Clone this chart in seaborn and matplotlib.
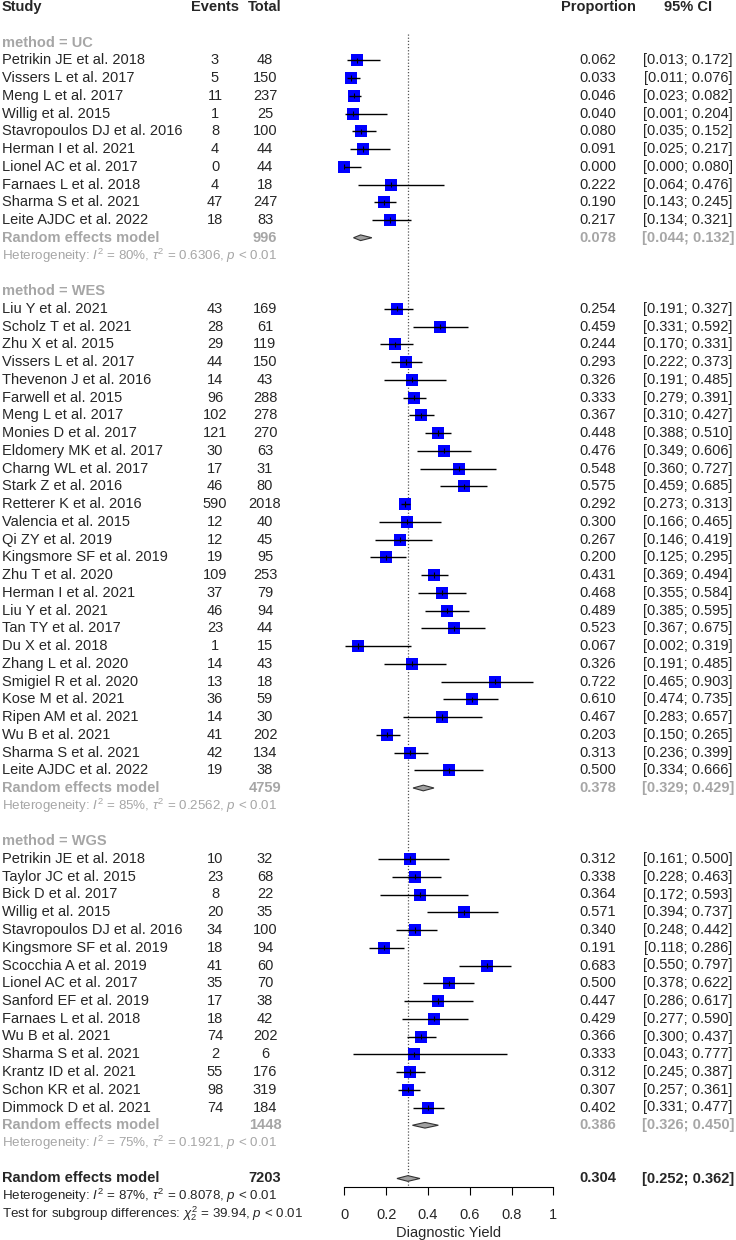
import matplotlib
matplotlib.use("Agg")
import matplotlib.pyplot as plt
import matplotlib.transforms as mtransforms
import numpy as np
import pandas as pd
import seaborn as sns

# ---- data ----
uc_study = ["Petrikin JE et al. 2018", "Vissers L et al. 2017", "Meng L et al. 2017",
            "Willig et al. 2015", "Stavropoulos DJ et al. 2016", "Herman I et al. 2021",
            "Lionel AC et al. 2017", "Farnaes L et al. 2018", "Sharma S et al. 2021",
            "Leite AJDC et al. 2022"]
uc_events = [3, 5, 11, 1, 8, 4, 0, 4, 47, 18]
uc_total = [48, 150, 237, 25, 100, 44, 44, 18, 247, 83]
uc_prop = [0.062, 0.033, 0.046, 0.040, 0.080, 0.091, 0.000, 0.222, 0.190, 0.217]
uc_lo = [0.013, 0.011, 0.023, 0.001, 0.035, 0.025, 0.000, 0.064, 0.143, 0.134]
uc_hi = [0.172, 0.076, 0.082, 0.204, 0.152, 0.217, 0.080, 0.476, 0.245, 0.321]

wes_study = ["Liu Y et al. 2021", "Scholz T et al. 2021", "Zhu X et al. 2015",
             "Vissers L et al. 2017", "Thevenon J et al. 2016", "Farwell et al. 2015",
             "Meng L et al. 2017", "Monies D et al. 2017", "Eldomery MK et al. 2017",
             "Charng WL et al. 2017", "Stark Z et al. 2016", "Retterer K et al. 2016",
             "Valencia et al. 2015", "Qi ZY et al. 2019", "Kingsmore SF et al. 2019",
             "Zhu T et al. 2020", "Herman I et al. 2021", "Liu Y et al. 2021",
             "Tan TY et al. 2017", "Du X et al. 2018", "Zhang L et al. 2020",
             "Smigiel R et al. 2020", "Kose M et al. 2021", "Ripen AM et al. 2021",
             "Wu B et al. 2021", "Sharma S et al. 2021", "Leite AJDC et al. 2022"]
wes_events = [43, 28, 29, 44, 14, 96, 102, 121, 30, 17, 46, 590, 12, 12, 19, 109, 37,
              46, 23, 1, 14, 13, 36, 14, 41, 42, 19]
wes_total = [169, 61, 119, 150, 43, 288, 278, 270, 63, 31, 80, 2018, 40, 45, 95, 253, 79,
             94, 44, 15, 43, 18, 59, 30, 202, 134, 38]
wes_prop = [0.254, 0.459, 0.244, 0.293, 0.326, 0.333, 0.367, 0.448, 0.476, 0.548, 0.575,
            0.292, 0.300, 0.267, 0.200, 0.431, 0.468, 0.489, 0.523, 0.067, 0.326, 0.722,
            0.610, 0.467, 0.203, 0.313, 0.500]
wes_lo = [0.191, 0.331, 0.170, 0.222, 0.191, 0.279, 0.310, 0.388, 0.349, 0.360, 0.459,
          0.273, 0.166, 0.146, 0.125, 0.369, 0.355, 0.385, 0.367, 0.002, 0.191, 0.465,
          0.474, 0.283, 0.150, 0.236, 0.334]
wes_hi = [0.327, 0.592, 0.331, 0.373, 0.485, 0.391, 0.427, 0.510, 0.606, 0.727, 0.685,
          0.313, 0.465, 0.419, 0.295, 0.494, 0.584, 0.595, 0.675, 0.319, 0.485, 0.903,
          0.735, 0.657, 0.265, 0.399, 0.666]

wgs_study = ["Petrikin JE et al. 2018", "Taylor JC et al. 2015", "Bick D et al. 2017",
             "Willig et al. 2015", "Stavropoulos DJ et al. 2016", "Kingsmore SF et al. 2019",
             "Scocchia A et al. 2019", "Lionel AC et al. 2017", "Sanford EF et al. 2019",
             "Farnaes L et al. 2018", "Wu B et al. 2021", "Sharma S et al. 2021",
             "Krantz ID et al. 2021", "Schon KR et al. 2021", "Dimmock D et al. 2021"]
wgs_events = [10, 23, 8, 20, 34, 18, 41, 35, 17, 18, 74, 2, 55, 98, 74]
wgs_total = [32, 68, 22, 35, 100, 94, 60, 70, 38, 42, 202, 6, 176, 319, 184]
wgs_prop = [0.312, 0.338, 0.364, 0.571, 0.340, 0.191, 0.683, 0.500, 0.447, 0.429, 0.366,
            0.333, 0.312, 0.307, 0.402]
wgs_lo = [0.161, 0.228, 0.172, 0.394, 0.248, 0.118, 0.550, 0.378, 0.286, 0.277, 0.300,
          0.043, 0.245, 0.257, 0.331]
wgs_hi = [0.500, 0.463, 0.593, 0.737, 0.442, 0.286, 0.797, 0.622, 0.617, 0.590, 0.437,
          0.777, 0.387, 0.361, 0.477]

group_names = ["UC", "WES", "WGS"]
group_total = [996, 4759, 1448]
group_est = [0.078, 0.378, 0.386]
group_lo = [0.044, 0.329, 0.326]
group_hi = [0.132, 0.429, 0.450]
group_i2 = [80, 85, 75]
group_tau2 = ["0.6306", "0.2562", "0.1921"]

overall_total = 7203
overall_est, overall_lo, overall_hi = 0.304, 0.252, 0.362
overall_i2, overall_tau2 = 87, "0.8078"
subgroup_chi2 = "39.94"

# ---- layout ----
W, H = 736, 1240
ROW0, ROWH = 7.0, 17.75
X0, X1 = 344.3, 553.3
AXB = 1187
FS = 10.5
FS_HET = 9.6
GREY = "#a6a6a6"
COL_STUDY, COL_EV, COL_TOT, COL_PROP, COL_CI = 2, 215, 265, 598, 688

sns.set_theme(style="white")
plt.rcParams["font.family"] = ["Liberation Sans", "DejaVu Sans"]
plt.rcParams["mathtext.fontset"] = "custom"
plt.rcParams["mathtext.rm"] = "Liberation Sans"
plt.rcParams["mathtext.it"] = "Liberation Sans:italic"
plt.rcParams["mathtext.bf"] = "Liberation Sans:bold"

fig = plt.figure(figsize=(W / 100, H / 100), dpi=100)
ax = fig.add_axes([X0 / W, 1 - AXB / H, (X1 - X0) / W, AXB / H])
ax.set_xlim(0, 1)
ax.set_ylim((AXB - ROW0) / ROWH, -ROW0 / ROWH)
trans = mtransforms.blended_transform_factory(fig.transFigure, ax.transData)


def txt(px, row, s, ha="center", size=FS, **kw):
    ax.text(px / W, row, s, transform=trans, ha=ha, va="center", fontsize=size,
            clip_on=False, **kw)


def diamond(est, lo, hi, row, h=0.16):
    ax.fill([lo, est, hi, est], [row, row - h, row, row + h], facecolor="#a0a0a0",
            edgecolor="#333333", lw=0.8, zorder=4, clip_on=False)


# header
txt(COL_STUDY, 0, "Study", ha="left", fontweight="bold")
txt(COL_EV, 0, "Events", fontweight="bold")
txt(COL_TOT, 0, "Total", fontweight="bold")
txt(COL_PROP, 0, "Proportion", fontweight="bold")
txt(COL_CI, 0, "95% CI", fontweight="bold")

studies = [
    (uc_study, uc_events, uc_total, uc_prop, uc_lo, uc_hi),
    (wes_study, wes_events, wes_total, wes_prop, wes_lo, wes_hi),
    (wgs_study, wgs_events, wgs_total, wgs_prop, wgs_lo, wgs_hi),
]

frames = []
row = 2
for g, (st, ev, tot, pr, lo, hi) in enumerate(studies):
    txt(COL_STUDY, row, f"method = {group_names[g]}", ha="left", fontweight="bold", color=GREY)
    rows = np.arange(row + 1, row + 1 + len(st))
    frames.append(pd.DataFrame({"row": rows, "study": st, "events": ev, "total": tot,
                                "prop": pr, "lo": lo, "hi": hi}))
    for r, s, e, t, p, l, h in zip(rows, st, ev, tot, pr, lo, hi):
        txt(COL_STUDY, r, s, ha="left")
        txt(COL_EV, r, str(e))
        txt(COL_TOT, r, str(t))
        txt(COL_PROP, r, f"{p:.3f}")
        txt(COL_CI, r, f"[{l:.3f}; {h:.3f}]")
    row = rows[-1] + 1
    txt(COL_STUDY, row, "Random effects model", ha="left", fontweight="bold", color=GREY)
    txt(COL_TOT, row, str(group_total[g]), fontweight="bold", color=GREY)
    txt(COL_PROP, row, f"{group_est[g]:.3f}", fontweight="bold", color=GREY)
    txt(COL_CI, row, f"[{group_lo[g]:.3f}; {group_hi[g]:.3f}]", fontweight="bold", color=GREY)
    diamond(group_est[g], group_lo[g], group_hi[g], row)
    txt(COL_STUDY, row + 1,
        rf"Heterogeneity: $I^2$ = {group_i2[g]}%, $\tau^2$ = {group_tau2[g]}, $p$ < 0.01",
        ha="left", color=GREY, size=FS_HET)
    row += 3

df = pd.concat(frames, ignore_index=True)

# overall
txt(COL_STUDY, row, "Random effects model", ha="left", fontweight="bold")
txt(COL_TOT, row, str(overall_total), fontweight="bold")
txt(COL_PROP, row, f"{overall_est:.3f}", fontweight="bold")
txt(COL_CI, row, f"[{overall_lo:.3f}; {overall_hi:.3f}]", fontweight="bold")
diamond(overall_est, overall_lo, overall_hi, row)
txt(COL_STUDY, row + 1,
    rf"Heterogeneity: $I^2$ = {overall_i2}%, $\tau^2$ = {overall_tau2}, $p$ < 0.01",
    ha="left", size=FS_HET)
txt(COL_STUDY, row + 2,
    rf"Test for subgroup differences: $\chi^2_2$ = {subgroup_chi2}, $p$ < 0.01",
    ha="left", size=FS_HET)

# reference line
ax.vlines(overall_est, 1.5, ax.get_ylim()[0], color="#555555", lw=0.9,
          linestyles=(0, (1, 1.5)), zorder=1)

# study squares + CIs
sns.scatterplot(data=df, x="prop", y="row", marker="s", s=85, color="#0000ff",
                linewidth=0, ax=ax, zorder=3, clip_on=False, legend=False)
ax.hlines(df["row"], df["lo"], df["hi"], color="black", lw=1, zorder=4)
ax.vlines(df["prop"], df["row"] - 0.15, df["row"] + 0.15, color="black", lw=0.8, zorder=5)

# axis
for side in ["left", "right", "top"]:
    ax.spines[side].set_visible(False)
ax.spines["bottom"].set_color("black")
ax.spines["bottom"].set_linewidth(0.8)
ax.set_xticks([0, 0.2, 0.4, 0.6, 0.8, 1])
ax.set_xticklabels(["0", "0.2", "0.4", "0.6", "0.8", "1"])
ax.set_yticks([])
ax.tick_params(axis="x", direction="out", length=6, width=0.8, color="black",
               labelsize=FS, pad=9, bottom=True)
ax.set_xlabel("Diagnostic Yield", fontsize=FS, labelpad=3)
ax.set_ylabel("")
ax.grid(False)

fig.savefig("out.png", dpi=100)
